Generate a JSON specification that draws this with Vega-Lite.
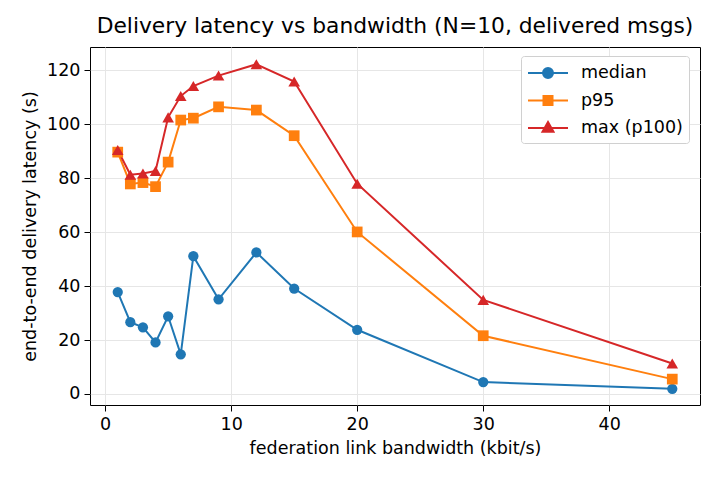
{
  "$schema": "https://vega.github.io/schema/vega-lite/v6.json",
  "width": 610,
  "height": 358,
  "autosize": {"type": "none"},
  "padding": {"left": 90, "top": 47, "right": 20, "bottom": 75},
  "background": "white",
  "title": {"text": "Delivery latency vs bandwidth (N=10, delivered msgs)", "fontSize": 21.8, "fontWeight": "normal", "font": "DejaVu Sans", "color": "black", "offset": 9, "anchor": "middle"},
  "config": {
    "view": {"stroke": "black", "strokeWidth": 1},
    "font": "DejaVu Sans",
    "axis": {
      "labelFont": "DejaVu Sans", "titleFont": "DejaVu Sans",
      "labelFontSize": 17.5, "titleFontSize": 17.5, "titleFontWeight": "normal",
      "labelColor": "black", "titleColor": "black",
      "tickColor": "black", "tickSize": 6, "domain": false,
      "gridColor": "#e6e6e6", "gridWidth": 1
    }
  },
  "data": {"values": [
    {"bw": 1, "stat": "median", "latency": 37.8},
    {"bw": 2, "stat": "median", "latency": 26.6},
    {"bw": 3, "stat": "median", "latency": 24.7},
    {"bw": 4, "stat": "median", "latency": 19.1},
    {"bw": 5, "stat": "median", "latency": 28.8},
    {"bw": 6, "stat": "median", "latency": 14.7},
    {"bw": 7, "stat": "median", "latency": 51.1},
    {"bw": 9, "stat": "median", "latency": 35.1},
    {"bw": 12, "stat": "median", "latency": 52.5},
    {"bw": 15, "stat": "median", "latency": 39.1},
    {"bw": 20, "stat": "median", "latency": 23.8},
    {"bw": 30, "stat": "median", "latency": 4.4},
    {"bw": 45, "stat": "median", "latency": 1.9},
    {"bw": 1, "stat": "p95", "latency": 89.7},
    {"bw": 2, "stat": "p95", "latency": 77.9},
    {"bw": 3, "stat": "p95", "latency": 78.4},
    {"bw": 4, "stat": "p95", "latency": 76.9},
    {"bw": 5, "stat": "p95", "latency": 86.0},
    {"bw": 6, "stat": "p95", "latency": 101.6},
    {"bw": 7, "stat": "p95", "latency": 102.3},
    {"bw": 9, "stat": "p95", "latency": 106.5},
    {"bw": 12, "stat": "p95", "latency": 105.3},
    {"bw": 15, "stat": "p95", "latency": 95.8},
    {"bw": 20, "stat": "p95", "latency": 60.1},
    {"bw": 30, "stat": "p95", "latency": 21.6},
    {"bw": 45, "stat": "p95", "latency": 5.5},
    {"bw": 1, "stat": "max (p100)", "latency": 90.5},
    {"bw": 2, "stat": "max (p100)", "latency": 81.3},
    {"bw": 3, "stat": "max (p100)", "latency": 81.8},
    {"bw": 4, "stat": "max (p100)", "latency": 82.7},
    {"bw": 5, "stat": "max (p100)", "latency": 102.6},
    {"bw": 6, "stat": "max (p100)", "latency": 110.5},
    {"bw": 7, "stat": "max (p100)", "latency": 114.2},
    {"bw": 9, "stat": "max (p100)", "latency": 118.1},
    {"bw": 12, "stat": "max (p100)", "latency": 122.3},
    {"bw": 15, "stat": "max (p100)", "latency": 115.9},
    {"bw": 20, "stat": "max (p100)", "latency": 78.0},
    {"bw": 30, "stat": "max (p100)", "latency": 34.9},
    {"bw": 45, "stat": "max (p100)", "latency": 11.3}
  ]},
  "encoding": {
    "x": {"field": "bw", "type": "quantitative",
      "scale": {"domain": [-1.2, 47.2], "nice": false, "zero": false},
      "axis": {"title": "federation link bandwidth (kbit/s)", "values": [0, 10, 20, 30, 40], "labelPadding": 4, "titlePadding": 7}},
    "y": {"field": "latency", "type": "quantitative",
      "scale": {"domain": [-4.1, 128.7], "nice": false, "zero": false},
      "axis": {"title": "end-to-end delivery latency (s)", "values": [0, 20, 40, 60, 80, 100, 120], "labelPadding": 4, "titlePadding": 7}},
    "color": {"field": "stat", "type": "nominal",
      "scale": {"domain": ["median", "p95", "max (p100)"], "range": ["#1f77b4", "#ff7f0e", "#d62728"]},
      "legend": {
        "title": null, "orient": "none", "legendX": 431, "legendY": 9,
        "fillColor": "white", "strokeColor": "#d0d0d0", "cornerRadius": 3, "padding": 6,
        "labelFontSize": 17.5, "labelFont": "DejaVu Sans", "labelColor": "black",
        "symbolSize": 400, "symbolStrokeWidth": 2, "symbolOffset": 10, "labelOffset": 22, "rowPadding": 7.5,
        "symbolOpacity": 1,
        "encode": {"symbols": {"update": {
          "shape": {"signal": "datum.value === 'median' ? 'M-2,0H2M0.5,0A0.5,0.5,0,1,1,-0.5,0A0.5,0.5,0,1,1,0.5,0Z' : datum.value === 'p95' ? 'M-2,0H2M-0.45,-0.45H0.45V0.45H-0.45Z' : 'M-2,0H2M0,-0.6L0.55,0.38L-0.55,0.38Z'"},
          "fill": {"signal": "datum.value === 'median' ? '#1f77b4' : datum.value === 'p95' ? '#ff7f0e' : '#d62728'"},
          "stroke": {"signal": "datum.value === 'median' ? '#1f77b4' : datum.value === 'p95' ? '#ff7f0e' : '#d62728'"},
          "fillOpacity": {"value": 1}
        }}}
      }
    }
  },
  "layer": [
    {"mark": {"type": "line", "strokeWidth": 2}},
    {"transform": [{"filter": "datum.stat === 'median'"}],
     "mark": {"type": "point", "shape": "circle", "filled": true, "opacity": 1, "size": 105}},
    {"transform": [{"filter": "datum.stat === 'p95'"}],
     "mark": {"type": "point", "shape": "square", "filled": true, "opacity": 1, "size": 115}},
    {"transform": [{"filter": "datum.stat === 'max (p100)'"}],
     "mark": {"type": "point", "shape": "triangle-up", "filled": true, "opacity": 1, "size": 135}}
  ]
}
